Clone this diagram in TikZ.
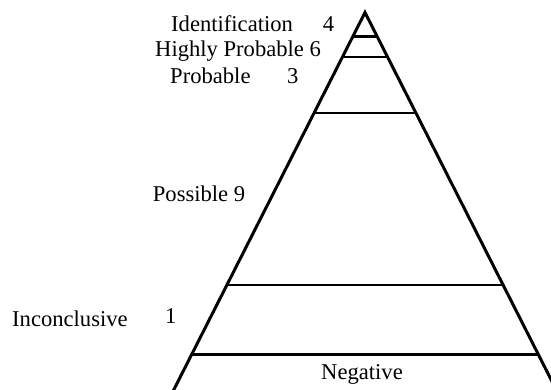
\documentclass[tikz,border=0pt]{standalone}
\usepackage{fontspec}
\setmainfont{Liberation Serif}
\usetikzlibrary{calc}
\tikzset{
  lbl/.style={anchor=base west, inner sep=0pt, font=\fontsize{22.6}{26}\selectfont},
  edge/.style={line width=3pt, line join=miter},
  tier/.style={line width=2.2pt}
}
\begin{document}
\begin{tikzpicture}[x=1pt,y=-1pt]
\useasboundingbox (0,0) rectangle (551,390);
\begin{scope}
\clip (0,0) rectangle (551,390);
\coordinate (apex) at (365,12.5);
\coordinate (bl) at (168.6,400);
\coordinate (br) at (561.4,400);
\draw[edge] (bl) -- (apex) -- (br);
\foreach \t in {0.0619,0.1156,0.2586,0.7032,0.8826}{
  \draw[tier] ($(apex)!\t!(bl)$) -- ($(apex)!\t!(br)$);
}
\end{scope}
\node[lbl] (ident) at (171,31.7) {Identification};
\node[lbl] (n4) at (322.7,31.7) {4};
\node[lbl] (hp) at (155,56.5) {Highly Probable 6};
\node[lbl] (prob) at (170,83.3) {Probable};
\node[lbl] (n3) at (287,83.3) {3};
\node[lbl] (poss) at (152.7,201.7) {Possible 9};
\node[lbl] (inc) at (12,326) {Inconclusive};
\node[lbl] (n1) at (165,323) {1};
\node[lbl] (neg) at (321,379) {Negative};
\end{tikzpicture}
\end{document}
